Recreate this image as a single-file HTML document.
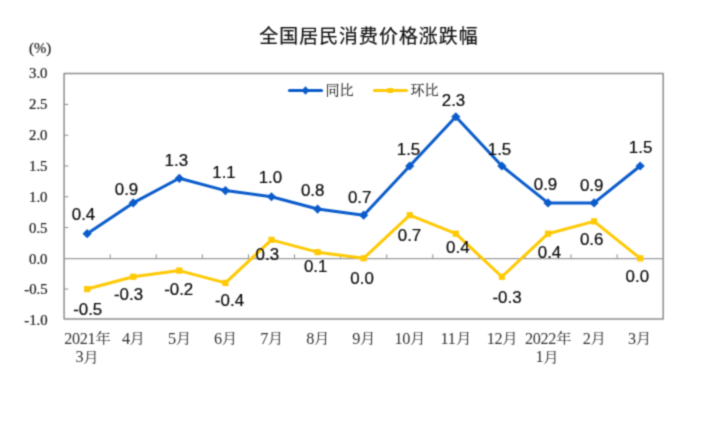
<!DOCTYPE html>
<html lang="zh-CN"><head><meta charset="utf-8"><title>全国居民消费价格涨跌幅</title>
<style>
html,body{margin:0;padding:0;background:#fff;}
body{width:703px;height:425px;overflow:hidden;}
svg{display:block;}
.ax{font-family:"Liberation Serif",serif;font-size:14.8px;fill:#222;stroke:#222;stroke-width:0.22px;}
.xd{font-family:"Liberation Serif",serif;font-size:16.2px;letter-spacing:-0.35px;fill:#333;}
.xc{font-family:"Liberation Serif","Noto Serif CJK SC",serif;font-size:13.6px;fill:#333;}
.dl{font-family:"Liberation Sans",sans-serif;font-size:16.9px;fill:#0a0a0a;stroke:#0a0a0a;stroke-width:0.2px;}
.lg{font-family:"Liberation Serif","Noto Serif CJK SC",serif;font-size:14px;fill:#2a2a2a;stroke:#2a2a2a;stroke-width:0.12px;}
.tt{font-family:"Liberation Sans","Noto Sans CJK SC",sans-serif;font-size:18.9px;letter-spacing:1.05px;fill:#111;font-weight:400;stroke:#111;stroke-width:0.2px;}
</style></head><body>
<svg width="703" height="425" viewBox="0 0 703 425">
<defs><filter id="soft" x="0" y="0" width="703" height="425" filterUnits="userSpaceOnUse" color-interpolation-filters="sRGB"><feConvolveMatrix order="3" kernelMatrix="0.0361 0.1178 0.0361 0.1178 0.3846 0.1178 0.0361 0.1178 0.0361" edgeMode="duplicate" preserveAlpha="false"/></filter></defs>
<rect width="703" height="425" fill="#fff"/>
<g filter="url(#soft)">
<rect width="703" height="425" fill="#fff"/>
<rect x="64.1" y="73.5" width="599.1" height="245.5" fill="none" stroke="#8e8e8e" stroke-width="1.5" stroke-linejoin="round"/>
<line x1="64.1" y1="258.6" x2="663.2" y2="258.6" stroke="#9c9c9c" stroke-width="1.35"/>
<line x1="110.18" y1="258.3" x2="110.18" y2="254.3" stroke="#8e8e8e" stroke-width="1"/>
<line x1="156.27" y1="258.3" x2="156.27" y2="254.3" stroke="#8e8e8e" stroke-width="1"/>
<line x1="202.35" y1="258.3" x2="202.35" y2="254.3" stroke="#8e8e8e" stroke-width="1"/>
<line x1="248.44" y1="258.3" x2="248.44" y2="254.3" stroke="#8e8e8e" stroke-width="1"/>
<line x1="294.52" y1="258.3" x2="294.52" y2="254.3" stroke="#8e8e8e" stroke-width="1"/>
<line x1="340.61" y1="258.3" x2="340.61" y2="254.3" stroke="#8e8e8e" stroke-width="1"/>
<line x1="386.69" y1="258.3" x2="386.69" y2="254.3" stroke="#8e8e8e" stroke-width="1"/>
<line x1="432.78" y1="258.3" x2="432.78" y2="254.3" stroke="#8e8e8e" stroke-width="1"/>
<line x1="478.86" y1="258.3" x2="478.86" y2="254.3" stroke="#8e8e8e" stroke-width="1"/>
<line x1="524.95" y1="258.3" x2="524.95" y2="254.3" stroke="#8e8e8e" stroke-width="1"/>
<line x1="571.03" y1="258.3" x2="571.03" y2="254.3" stroke="#8e8e8e" stroke-width="1"/>
<line x1="617.12" y1="258.3" x2="617.12" y2="254.3" stroke="#8e8e8e" stroke-width="1"/>
<text x="29" y="78.30" class="ax">3.0</text>
<line x1="64.1" y1="104.43" x2="68.39999999999999" y2="104.43" stroke="#8e8e8e" stroke-width="1"/>
<text x="29" y="109.18" class="ax">2.5</text>
<line x1="64.1" y1="135.20" x2="68.39999999999999" y2="135.20" stroke="#8e8e8e" stroke-width="1"/>
<text x="29" y="140.06" class="ax">2.0</text>
<line x1="64.1" y1="165.98" x2="68.39999999999999" y2="165.98" stroke="#8e8e8e" stroke-width="1"/>
<text x="29" y="170.94" class="ax">1.5</text>
<line x1="64.1" y1="196.75" x2="68.39999999999999" y2="196.75" stroke="#8e8e8e" stroke-width="1"/>
<text x="29" y="201.82" class="ax">1.0</text>
<line x1="64.1" y1="227.53" x2="68.39999999999999" y2="227.53" stroke="#8e8e8e" stroke-width="1"/>
<text x="29" y="232.70" class="ax">0.5</text>
<text x="29" y="263.58" class="ax">0.0</text>
<line x1="64.1" y1="289.07" x2="68.39999999999999" y2="289.07" stroke="#8e8e8e" stroke-width="1"/>
<text x="24.3" y="294.46" class="ax">-0.5</text>
<text x="24.3" y="325.34" class="ax">-1.0</text>
<text x="29" y="52.8" class="ax">(%)</text>
<polyline points="87.14,289.07 133.23,276.76 179.31,270.61 225.40,282.92 271.48,239.84 317.57,252.15 363.65,258.30 409.73,215.22 455.82,233.68 501.90,276.76 547.99,233.68 594.07,221.37 640.16,258.30" fill="none" stroke="#ffc903" stroke-width="3.0" stroke-linejoin="round" stroke-linecap="round"/>
<rect x="84.04" y="285.97" width="6.2" height="6.2" fill="#ffc903"/>
<rect x="130.13" y="273.66" width="6.2" height="6.2" fill="#ffc903"/>
<rect x="176.21" y="267.51" width="6.2" height="6.2" fill="#ffc903"/>
<rect x="222.30" y="279.82" width="6.2" height="6.2" fill="#ffc903"/>
<rect x="268.38" y="236.74" width="6.2" height="6.2" fill="#ffc903"/>
<rect x="314.47" y="249.05" width="6.2" height="6.2" fill="#ffc903"/>
<rect x="360.55" y="255.20" width="6.2" height="6.2" fill="#ffc903"/>
<rect x="406.63" y="212.12" width="6.2" height="6.2" fill="#ffc903"/>
<rect x="452.72" y="230.58" width="6.2" height="6.2" fill="#ffc903"/>
<rect x="498.80" y="273.66" width="6.2" height="6.2" fill="#ffc903"/>
<rect x="544.89" y="230.58" width="6.2" height="6.2" fill="#ffc903"/>
<rect x="590.97" y="218.27" width="6.2" height="6.2" fill="#ffc903"/>
<rect x="637.06" y="255.20" width="6.2" height="6.2" fill="#ffc903"/>
<polyline points="87.14,233.68 133.23,202.91 179.31,178.29 225.40,190.60 271.48,196.75 317.57,209.06 363.65,215.22 409.73,165.98 455.82,116.74 501.90,165.98 547.99,202.91 594.07,202.91 640.16,165.98" fill="none" stroke="#0b5ccb" stroke-width="3.0" stroke-linejoin="round" stroke-linecap="round"/>
<path d="M87.14 229.08L91.74 233.68L87.14 238.28L82.54 233.68Z" fill="#0b5ccb"/>
<path d="M133.23 198.31L137.83 202.91L133.23 207.51L128.63 202.91Z" fill="#0b5ccb"/>
<path d="M179.31 173.69L183.91 178.29L179.31 182.89L174.71 178.29Z" fill="#0b5ccb"/>
<path d="M225.40 186.00L230.00 190.60L225.40 195.20L220.80 190.60Z" fill="#0b5ccb"/>
<path d="M271.48 192.15L276.08 196.75L271.48 201.35L266.88 196.75Z" fill="#0b5ccb"/>
<path d="M317.57 204.46L322.17 209.06L317.57 213.66L312.97 209.06Z" fill="#0b5ccb"/>
<path d="M363.65 210.62L368.25 215.22L363.65 219.82L359.05 215.22Z" fill="#0b5ccb"/>
<path d="M409.73 161.38L414.33 165.98L409.73 170.58L405.13 165.98Z" fill="#0b5ccb"/>
<path d="M455.82 112.14L460.42 116.74L455.82 121.34L451.22 116.74Z" fill="#0b5ccb"/>
<path d="M501.90 161.38L506.50 165.98L501.90 170.58L497.30 165.98Z" fill="#0b5ccb"/>
<path d="M547.99 198.31L552.59 202.91L547.99 207.51L543.39 202.91Z" fill="#0b5ccb"/>
<path d="M594.07 198.31L598.67 202.91L594.07 207.51L589.47 202.91Z" fill="#0b5ccb"/>
<path d="M640.16 161.38L644.76 165.98L640.16 170.58L635.56 165.98Z" fill="#0b5ccb"/>
<line x1="289.5" y1="90.5" x2="321.5" y2="90.5" stroke="#0b5ccb" stroke-width="3.2" stroke-linecap="round"/>
<path d="M305.5 86.2L309.4 90.5L305.5 94.8L301.6 90.5Z" fill="#0b5ccb"/>
<text x="325.5" y="95.2" class="lg">同比</text>
<line x1="374.5" y1="90.5" x2="406.5" y2="90.5" stroke="#ffc903" stroke-width="3.2" stroke-linecap="round"/>
<rect x="387.5" y="88" width="5.5" height="5" fill="#ffc903"/>
<text x="410.5" y="95.2" class="lg">环比</text>
<text x="369.0" y="42.7" class="tt" text-anchor="middle">全国居民消费价格涨跌幅</text>
<text x="83.5" y="220.3" class="dl" text-anchor="middle">0.4</text>
<text x="126.5" y="195" class="dl" text-anchor="middle">0.9</text>
<text x="176.3" y="165.6" class="dl" text-anchor="middle">1.3</text>
<text x="224" y="178" class="dl" text-anchor="middle">1.1</text>
<text x="270.4" y="182.6" class="dl" text-anchor="middle">1.0</text>
<text x="312.7" y="196.4" class="dl" text-anchor="middle">0.8</text>
<text x="359.7" y="203.4" class="dl" text-anchor="middle">0.7</text>
<text x="408.5" y="155" class="dl" text-anchor="middle">1.5</text>
<text x="453.5" y="105.6" class="dl" text-anchor="middle">2.3</text>
<text x="499.5" y="155" class="dl" text-anchor="middle">1.5</text>
<text x="545.5" y="190" class="dl" text-anchor="middle">0.9</text>
<text x="591.7" y="191" class="dl" text-anchor="middle">0.9</text>
<text x="640.6" y="153.4" class="dl" text-anchor="middle">1.5</text>
<text x="87.7" y="315" class="dl" text-anchor="middle">-0.5</text>
<text x="128.5" y="300" class="dl" text-anchor="middle">-0.3</text>
<text x="178.7" y="295" class="dl" text-anchor="middle">-0.2</text>
<text x="229.5" y="306.4" class="dl" text-anchor="middle">-0.4</text>
<text x="267.3" y="260" class="dl" text-anchor="middle">0.3</text>
<text x="315.7" y="272.4" class="dl" text-anchor="middle">0.1</text>
<text x="362.1" y="284" class="dl" text-anchor="middle">0.0</text>
<text x="409.5" y="240.5" class="dl" text-anchor="middle">0.7</text>
<text x="457.8" y="253" class="dl" text-anchor="middle">0.4</text>
<text x="507" y="302.6" class="dl" text-anchor="middle">-0.3</text>
<text x="549.5" y="258" class="dl" text-anchor="middle">0.4</text>
<text x="591.7" y="245" class="dl" text-anchor="middle">0.6</text>
<text x="637.3" y="282.4" class="dl" text-anchor="middle">0.0</text>
<text x="64.19" y="343.6" class="xd">2021</text>
<text transform="translate(102.94 343.0) scale(1.15 1)" class="xc" text-anchor="middle">年</text>
<text x="75.52" y="362.2" class="xd">3</text>
<text transform="translate(91.02 361.59999999999997) scale(1.15 1)" class="xc" text-anchor="middle">月</text>
<text x="121.90" y="343.6" class="xd">4</text>
<text transform="translate(137.40 343.0) scale(1.15 1)" class="xc" text-anchor="middle">月</text>
<text x="167.99" y="343.6" class="xd">5</text>
<text transform="translate(183.49 343.0) scale(1.15 1)" class="xc" text-anchor="middle">月</text>
<text x="214.07" y="343.6" class="xd">6</text>
<text transform="translate(229.57 343.0) scale(1.15 1)" class="xc" text-anchor="middle">月</text>
<text x="260.16" y="343.6" class="xd">7</text>
<text transform="translate(275.66 343.0) scale(1.15 1)" class="xc" text-anchor="middle">月</text>
<text x="306.24" y="343.6" class="xd">8</text>
<text transform="translate(321.74 343.0) scale(1.15 1)" class="xc" text-anchor="middle">月</text>
<text x="352.32" y="343.6" class="xd">9</text>
<text transform="translate(367.82 343.0) scale(1.15 1)" class="xc" text-anchor="middle">月</text>
<text x="394.53" y="343.6" class="xd">10</text>
<text transform="translate(417.78 343.0) scale(1.15 1)" class="xc" text-anchor="middle">月</text>
<text x="440.62" y="343.6" class="xd">11</text>
<text transform="translate(463.87 343.0) scale(1.15 1)" class="xc" text-anchor="middle">月</text>
<text x="486.70" y="343.6" class="xd">12</text>
<text transform="translate(509.95 343.0) scale(1.15 1)" class="xc" text-anchor="middle">月</text>
<text x="525.04" y="343.6" class="xd">2022</text>
<text transform="translate(563.79 343.0) scale(1.15 1)" class="xc" text-anchor="middle">年</text>
<text x="535.46" y="362.2" class="xd">1</text>
<text transform="translate(550.96 361.59999999999997) scale(1.15 1)" class="xc" text-anchor="middle">月</text>
<text x="582.75" y="343.6" class="xd">2</text>
<text transform="translate(598.25 343.0) scale(1.15 1)" class="xc" text-anchor="middle">月</text>
<text x="628.03" y="343.6" class="xd">3</text>
<text transform="translate(643.53 343.0) scale(1.15 1)" class="xc" text-anchor="middle">月</text>
</g></svg>
</body></html>
